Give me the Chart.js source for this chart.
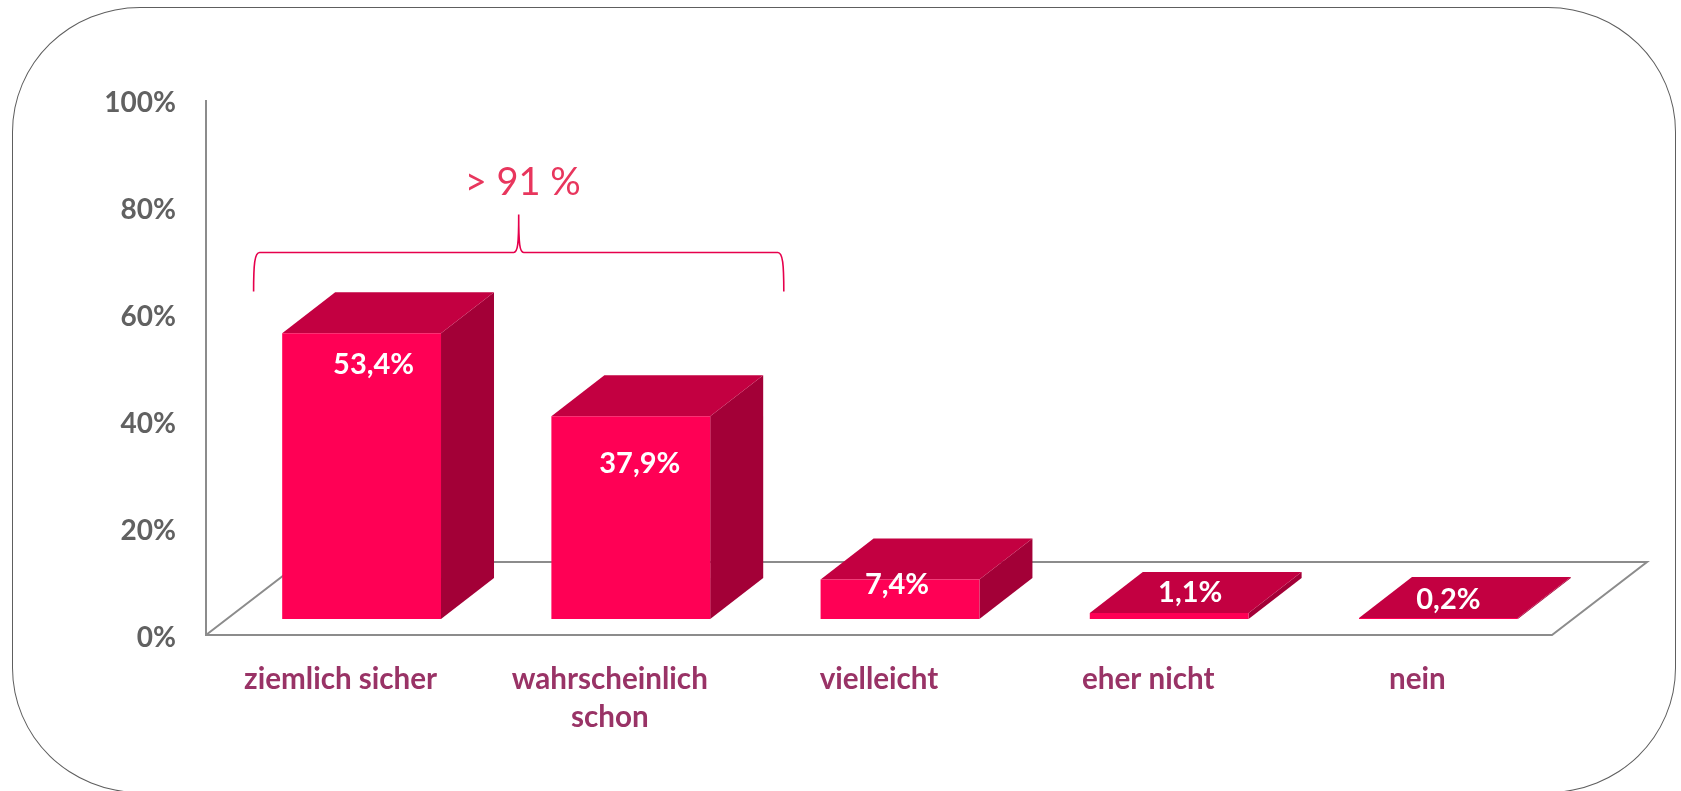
<!DOCTYPE html>
<html>
<head>
<meta charset="utf-8">
<style>
  html, body { margin: 0; padding: 0; background: #fff; overflow: hidden; }
  #wrap { position: relative; width: 1681px; height: 791px; overflow: hidden; }
  #frame { position: absolute; left: 11.5px; top: 7px; width: 1664.5px; height: 786px;
           border: 1.7px solid #5e5e5e; border-radius: 128px / 125px; box-sizing: border-box; }
  #chart { position: absolute; left: 0; top: 0; }
</style>
<script src="https://cdn.jsdelivr.net/npm/chart.js@4"></script>
</head>
<body>
<div id="wrap">
  <div id="frame"></div>
  <canvas id="chart" width="1681" height="791"></canvas>
</div>
<script>
// --- Data ---
const categories = ['ziemlich sicher', ['wahrscheinlich', 'schon'], 'vielleicht', 'eher nicht', 'nein'];
const shares = [53.4, 37.9, 7.4, 1.1, 0.2];
const yTicks = [0, 20, 40, 60, 80, 100];
const bracketLabel = '> 91 %';

// --- Look ---
const FONT = 'Lato, "Open Sans", sans-serif';
const FRONT = '#ff0055';
const TOP = '#c30041';
const SIDE = '#a30037';
const AXIS = '#8c8c8c';
const BAR_SHIFT = { x: 21, y: -16 };   // bars stand inside the floor, not on the axis
const DEPTH = { x: 53, y: -41 };
const LABEL_SHIFT = [[33, 31], [30, 47], [18, 5], [42, -20], [31, -18]];

// floor and back wall of the fake 3D box
const floorPlugin = {
    id: 'floor',
    beforeDatasetsDraw(chart) {
        const { ctx, chartArea: a } = chart;
        const wallY = chart.scales.y.getPixelForValue(0) - 73;
        ctx.save();
        ctx.strokeStyle = AXIS;
        ctx.lineWidth = 2;
        ctx.beginPath();
        ctx.moveTo(a.left, a.top);
        ctx.lineTo(a.left, a.bottom);
        ctx.lineTo(a.right, a.bottom);
        ctx.lineTo(a.right + 95, wallY);
        ctx.lineTo(a.left + 95, wallY);
        ctx.lineTo(a.left, a.bottom);
        ctx.stroke();
        ctx.restore();
    }
};

// top + side faces first, then the native bar is the front face
const bar3dPlugin = {
    id: 'bar3d',
    beforeDatasetDraw(chart, args) {
        const { ctx } = chart;
        ctx.save();
        ctx.translate(BAR_SHIFT.x, BAR_SHIFT.y);
        args.meta.data.forEach(bar => {
            const { x, y, base, width } = bar.getProps(['x', 'y', 'base', 'width'], true);
            const l = x - width / 2, r = x + width / 2;
            ctx.fillStyle = SIDE;
            ctx.beginPath();
            ctx.moveTo(r, y);
            ctx.lineTo(r + DEPTH.x, y + DEPTH.y);
            ctx.lineTo(r + DEPTH.x, base + DEPTH.y);
            ctx.lineTo(r, base);
            ctx.closePath();
            ctx.fill();
            ctx.fillStyle = TOP;
            ctx.beginPath();
            ctx.moveTo(l, y);
            ctx.lineTo(l + DEPTH.x, y + DEPTH.y);
            ctx.lineTo(r + DEPTH.x, y + DEPTH.y);
            ctx.lineTo(r, y);
            ctx.closePath();
            ctx.fill();
        });
    },
    afterDatasetDraw(chart, args) {
        const { ctx } = chart;
        ctx.restore();
        ctx.save();
        ctx.fillStyle = '#fff';
        ctx.font = 'bold 29px ' + FONT;
        ctx.textAlign = 'center';
        ctx.textBaseline = 'middle';
        args.meta.data.forEach((bar, i) => {
            const txt = shares[i].toFixed(1).replace('.', ',') + '%';
            ctx.fillText(txt, bar.x + LABEL_SHIFT[i][0], bar.y + BAR_SHIFT.y + LABEL_SHIFT[i][1]);
        });
        ctx.restore();
    }
};

// curly bracket over the first two bars
const bracketPlugin = {
    id: 'bracket',
    afterDraw(chart) {
        const { ctx } = chart;
        const x = chart.scales.x;
        const y = chart.scales.y;
        const left = x.getPixelForValue(0) - 87, right = x.getPixelForValue(1) + 174;
        const mid = (left + right) / 2;
        const bar = y.getPixelForValue(71.5), foot = y.getPixelForValue(64.2);
        const tip = y.getPixelForValue(78.6);
        ctx.save();
        ctx.strokeStyle = '#e6004c';
        ctx.lineWidth = 1.6;
        ctx.beginPath();
        ctx.moveTo(left, foot);
        ctx.bezierCurveTo(left, bar + 12, left + 1, bar, left + 6, bar);
        ctx.lineTo(mid - 5, bar);
        ctx.bezierCurveTo(mid - 1, bar, mid, bar - 8, mid, tip);
        ctx.bezierCurveTo(mid, bar - 8, mid + 1, bar, mid + 5, bar);
        ctx.lineTo(right - 6, bar);
        ctx.bezierCurveTo(right - 1, bar, right, bar + 12, right, foot);
        ctx.stroke();
        ctx.fillStyle = '#e8365d';
        ctx.font = '38px ' + FONT;
        ctx.textAlign = 'center';
        ctx.textBaseline = 'middle';
        ctx.fillText(bracketLabel, mid + 4, y.getPixelForValue(84.5));
        ctx.restore();
    }
};

new Chart(document.getElementById('chart'), {
    type: 'bar',
    data: {
        labels: categories,
        datasets: [{
            data: shares,
            backgroundColor: FRONT,
            borderWidth: 0,
            barPercentage: 0.59,
            categoryPercentage: 1,
            clip: false
        }]
    },
    plugins: [floorPlugin, bar3dPlugin, bracketPlugin],
    options: {
        responsive: false,
        animation: false,
        layout: { padding: { left: 106, right: 129, top: 100, bottom: 0 } },
        plugins: { legend: { display: false }, tooltip: { enabled: false } },
        scales: {
            x: {
                grid: { display: false, drawTicks: false },
                border: { display: false },
                afterFit(s) { s.height = 156; s.paddingLeft = 0; s.paddingRight = 0; },
                ticks: {
                    autoSkip: false, maxRotation: 0, padding: 25, color: '#993366',
                    font: { family: FONT, size: 29.6, weight: 'bold', lineHeight: 1.29 }
                }
            },
            y: {
                min: 0,
                max: 100,
                grid: { display: false, drawTicks: false },
                border: { display: false },
                afterFit(s) { s.width = 100; s.paddingTop = 0; s.paddingBottom = 0; },
                afterBuildTicks(s) { s.ticks = yTicks.map(v => ({ value: v })); },
                ticks: {
                    padding: 30, color: '#616161', labelOffset: 2.5,
                    font: { family: FONT, size: 28, weight: 'bold' },
                    callback: v => v + '%'
                }
            }
        }
    }
});
</script>
</body>
</html>
